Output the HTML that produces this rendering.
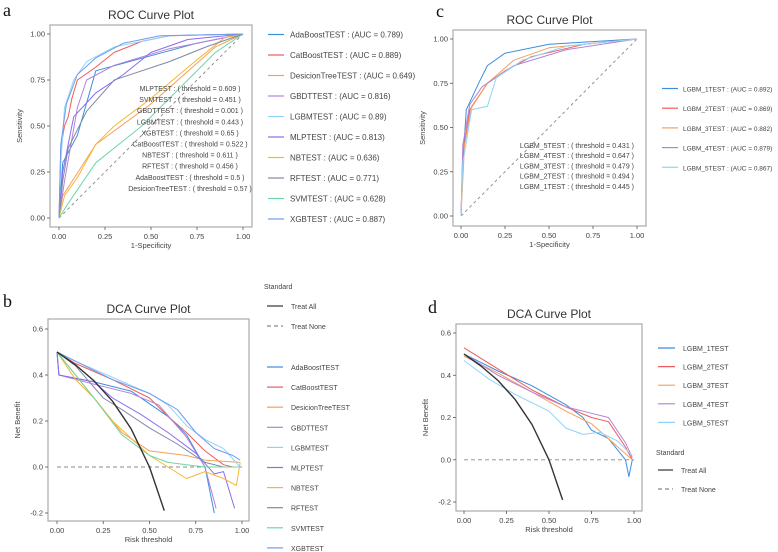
<!DOCTYPE html>
<html><head><meta charset="utf-8"><style>
body{margin:0;background:#fff;}
svg{display:block;font-family:"Liberation Sans",sans-serif;}
.tk{font-size:7.5px;fill:#444;}
.lg{font-size:8px;fill:#444;}
.lgc{font-size:6.5px;fill:#444;}
.th{font-size:7px;fill:#444;}
.tt{font-size:12px;fill:#333;}
.pl{font-family:"Liberation Serif",serif;font-size:18px;fill:#111;}
</style></head><body>
<svg id="fig" width="778" height="552" viewBox="0 0 778 552"></svg>
<script>
// ---- data ----
const rocAModels = ["AdaBoostTEST","CatBoostTEST","DesicionTreeTEST","GBDTTEST","LGBMTEST","MLPTEST","NBTEST","RFTEST","SVMTEST","XGBTEST"];
const rocAAuc = ["0.789","0.889","0.649","0.816","0.89","0.813","0.636","0.771","0.628","0.887"];
const rocAThreshLabels = ["MLPTEST : ( threshold = 0.609 )","SVMTEST : ( threshold = 0.451 )","GBDTTEST : ( threshold = 0.001 )","LGBMTEST : ( threshold = 0.443 )","XGBTEST : ( threshold = 0.65 )","CatBoostTEST : ( threshold = 0.522 )","NBTEST : ( threshold = 0.611 )","RFTEST : ( threshold = 0.456 )","AdaBoostTEST : ( threshold = 0.5 )","DesicionTreeTEST : ( threshold = 0.57 )"];
const rocAFpr = [
 [0,0.02,0.1,0.2,0.75,1],
 [0,0.01,0.03,0.05,0.07,0.1,0.2,0.3,0.45,0.6,1],
 [0,0.02,0.2,0.5,0.85,1],
 [0,0.03,0.1,0.15,0.3,0.6,1],
 [0,0.01,0.03,0.08,0.15,0.3,0.6,1],
 [0,0.02,0.08,0.2,0.35,0.5,0.7,1],
 [0,0.03,0.1,0.2,0.3,0.5,0.75,0.9,1],
 [0,0.02,0.05,0.15,0.3,0.6,0.8,1],
 [0,0.05,0.2,0.45,0.6,0.85,1],
 [0,0.01,0.04,0.1,0.2,0.35,0.55,1]];
const rocATpr = [
 [0,0.3,0.45,0.8,0.95,1],
 [0,0.38,0.5,0.55,0.65,0.75,0.82,0.9,0.96,0.99,1],
 [0,0.12,0.4,0.62,0.93,1],
 [0,0.2,0.6,0.75,0.83,0.92,1],
 [0,0.3,0.6,0.75,0.85,0.93,0.99,1],
 [0,0.25,0.55,0.68,0.78,0.9,0.97,1],
 [0,0.12,0.22,0.4,0.5,0.65,0.86,0.98,1],
 [0,0.2,0.38,0.58,0.75,0.85,0.93,1],
 [0,0.08,0.3,0.5,0.65,0.9,1],
 [0,0.4,0.62,0.78,0.87,0.95,0.99,1]];
const colorsA = ["#3b8ede","#ee5b5b","#f6a05c","#b382d8","#8fd4f7","#8b6cf0","#f7b733","#7d8aa6","#6fd6a8","#6f9cf0"];

const dcaTreatAllX = [0,0.1,0.2,0.3,0.4,0.5,0.58];
const dcaTreatAllY = [0.5,0.444,0.375,0.286,0.167,0,-0.19];
const dcaBX = [
 [0,0.01,0.2,0.4,0.6,0.7,0.8,0.85],
 [0,0.1,0.3,0.5,0.6,0.7,0.8,0.9,0.95],
 [0,0.2,0.35,0.5,0.7,0.8,0.99],
 [0,0.01,0.2,0.4,0.55,0.7,0.8,0.86],
 [0,0.1,0.3,0.5,0.6,0.7,0.8,0.9,0.99],
 [0,0.01,0.2,0.3,0.45,0.6,0.75,0.85,0.9,0.96],
 [0,0.1,0.2,0.3,0.38,0.5,0.6,0.7,0.8,0.9,0.97,0.99],
 [0,0.1,0.25,0.35,0.5,0.65,0.8,0.9],
 [0,0.2,0.35,0.5,0.6,0.7,0.8,0.99],
 [0,0.1,0.3,0.5,0.65,0.75,0.85,0.95,0.99]];
const dcaBY = [
 [0.5,0.4,0.37,0.33,0.22,0.14,0.0,-0.2],
 [0.5,0.45,0.38,0.3,0.22,0.15,0.07,0.01,0.0],
 [0.5,0.3,0.15,0.07,0.05,0.03,0.02],
 [0.5,0.4,0.36,0.32,0.27,0.13,0.0,-0.18],
 [0.5,0.46,0.39,0.32,0.27,0.18,0.12,0.08,0.0],
 [0.5,0.4,0.37,0.3,0.23,0.15,0.06,-0.03,-0.02,-0.18],
 [0.5,0.38,0.3,0.2,0.14,0.05,0.0,-0.05,-0.02,-0.05,-0.08,0.02],
 [0.5,0.44,0.3,0.25,0.17,0.1,0.02,0.0],
 [0.5,0.3,0.14,0.05,0.02,0.01,0.0,0.0],
 [0.5,0.46,0.38,0.32,0.25,0.15,0.08,0.05,0.03]];

const rocCModels = ["LGBM_1TEST","LGBM_2TEST","LGBM_3TEST","LGBM_4TEST","LGBM_5TEST"];
const rocCAuc = ["0.892","0.869","0.882","0.879","0.867"];
const rocCThreshLabels = ["LGBM_5TEST : ( threshold = 0.431 )","LGBM_4TEST : ( threshold = 0.647 )","LGBM_3TEST : ( threshold = 0.479 )","LGBM_2TEST : ( threshold = 0.494 )","LGBM_1TEST : ( threshold = 0.445 )"];
const rocCFpr = [
 [0,0.01,0.03,0.1,0.15,0.25,0.5,1],
 [0,0.01,0.05,0.15,0.25,0.4,0.7,1],
 [0,0.02,0.06,0.15,0.3,0.5,1],
 [0,0.01,0.05,0.12,0.3,0.6,1],
 [0,0.01,0.06,0.15,0.2,0.35,0.6,1]];
const rocCTpr = [
 [0,0.3,0.6,0.75,0.85,0.92,0.97,1],
 [0,0.35,0.6,0.75,0.82,0.9,0.97,1],
 [0,0.4,0.62,0.75,0.88,0.95,1],
 [0,0.4,0.63,0.73,0.85,0.94,1],
 [0,0.3,0.6,0.62,0.78,0.88,0.96,1]];
const colorsC = ["#3b8ede","#ee5b5b","#f6a05c","#b382d8","#8fd4f7"];

const dcaDX = [
 [0,0.2,0.4,0.6,0.7,0.75,0.85,0.95,0.97,0.99],
 [0,0.2,0.4,0.6,0.75,0.85,0.95,0.99],
 [0,0.2,0.4,0.6,0.75,0.85,0.92,0.99],
 [0,0.2,0.4,0.6,0.75,0.85,0.95,0.99],
 [0,0.15,0.3,0.5,0.6,0.7,0.8,0.9,0.99]];
const dcaDY = [
 [0.5,0.42,0.35,0.26,0.2,0.14,0.1,0.0,-0.08,0.0],
 [0.53,0.43,0.33,0.25,0.2,0.18,0.06,0.0],
 [0.49,0.41,0.32,0.23,0.17,0.1,0.05,0.0],
 [0.5,0.4,0.32,0.25,0.22,0.2,0.08,0.01],
 [0.47,0.38,0.31,0.23,0.15,0.12,0.13,0.09,0.02]];

const xTicks = ["0.00","0.25","0.50","0.75","1.00"];
const rocYTicks = ["0.00","0.25","0.50","0.75","1.00"];
const dcaBYTicks = ["-0.2","0.0","0.2","0.4","0.6"];

// ---- drawing ----
const NS="http://www.w3.org/2000/svg";
const svg=document.getElementById('fig');
function mk(tag,attrs,parent,text){const e=document.createElementNS(NS,tag);for(const k in attrs)e.setAttribute(k,attrs[k]);if(text!==undefined)e.textContent=text;(parent||svg).appendChild(e);return e;}
function lin(d0,d1,r0,r1){return v=>r0+(v-d0)/(d1-d0)*(r1-r0);}

function panel(cfg){
  const g=mk('g',{});
  
  
  const b=cfg.box;
  const fr=mk('rect',{x:b[0],y:b[1],width:b[2]-b[0],height:b[3]-b[1],fill:'none',stroke:'#aaa','stroke-width':1.2},g);
  
  const X=lin(0,1,cfg.xr[0],cfg.xr[1]);
  const Y=lin(cfg.yd[0],cfg.yd[1],cfg.yr[0],cfg.yr[1]);
  const xt=mk('g',{},g);
  xTicks.forEach(t=>{const v=parseFloat(t);mk('line',{x1:X(v),x2:X(v),y1:b[3],y2:b[3]+3,stroke:'#555','stroke-width':0.8},xt);mk('text',{x:X(v),y:b[3]+12,'text-anchor':'middle',class:'tk'},xt,t);});
  const yt=mk('g',{},g);
  cfg.yticks.forEach(t=>{const v=parseFloat(t);mk('line',{x1:b[0]-3,x2:b[0],y1:Y(v),y2:Y(v),stroke:'#555','stroke-width':0.8},yt);mk('text',{x:b[0]-5,y:Y(v)+2.5,'text-anchor':'end',class:'tk'},yt,t);});
  const xl=mk('text',{x:(b[0]+b[2])/2,y:b[3]+21,'text-anchor':'middle',class:'tk'},g,cfg.xlab);
  
  const cy=(b[1]+b[3])/2;
  const yl=mk('text',{x:b[0]-28,y:cy,'text-anchor':'middle',class:'tk',transform:`rotate(-90 ${b[0]-28} ${cy})`},g,cfg.ylab);
  
  const ti=mk('text',{x:(b[0]+b[2])/2,y:b[1]-6,'text-anchor':'middle',class:'tt'},g,cfg.title);
  
  const pl=mk('text',{x:cfg.label[0],y:cfg.label[1],class:'pl'},g,cfg.letter);
  
  return {g,X,Y};
}
function path(g,X,Y,xs,ys,color,w,dash,name){
  let d='';xs.forEach((x,i)=>{d+=(i?'L':'M')+X(x).toFixed(1)+','+Y(ys[i]).toFixed(1);});
  const p=mk('path',{d,fill:'none',stroke:color,'stroke-width':w,'stroke-linejoin':'round'},g);
  if(dash)p.setAttribute('stroke-dasharray',dash);
  
  
  return p;
}
function legendEntry(g,x,y,color,text,dash,tclass,len,gap){
  const e=mk('g',{},g);
  
  
  const l=mk('line',{x1:x,x2:x+len,y1:y,y2:y,stroke:color,'stroke-width':1.2},e);
  if(dash)l.setAttribute('stroke-dasharray',dash);
  mk('text',{x:x+len+(gap||8),y:y+3,class:tclass||'lg'},e,text);
}

// Panel a
(function(){
  const p=panel({name:'roc-panel-a',box:[50,25,252,227],xr:[59,243],yd:[0,1],yr:[218,34],yticks:rocYTicks,xlab:'1-Specificity',ylab:'Sensitivity',title:'ROC Curve Plot',letter:'a',label:[3,16]});
  path(p.g,p.X,p.Y,[0,1],[0,1],'#888',0.9,'3,3','diagonal-reference');
  rocAModels.forEach((m,i)=>path(p.g,p.X,p.Y,rocAFpr[i],rocATpr[i],colorsA[i],1,null,'roc-line-'+m.toLowerCase()));
  rocAThreshLabels.forEach((t,i)=>{const e=mk('text',{x:190,y:91+i*11.1,'text-anchor':'middle',class:'th'},p.g,t);});
  rocAModels.forEach((m,i)=>legendEntry(p.g,268,34.5+i*20.5,colorsA[i],m+' : (AUC = '+rocAAuc[i]+')',null,'lg',16,6));
})();
// Panel b
(function(){
  const p=panel({name:'dca-panel-b',box:[48,319,249,521],xr:[57,242],yd:[-0.2,0.6],yr:[513,329],yticks:dcaBYTicks,xlab:'Risk threshold',ylab:'Net Benefit',title:'DCA Curve Plot',letter:'b',label:[3,307]});
  path(p.g,p.X,p.Y,[0,1],[0,0],'#888',0.9,'4,3','treat-none-line');
  rocAModels.forEach((m,i)=>path(p.g,p.X,p.Y,dcaBX[i],dcaBY[i],colorsA[i],1,null,'dca-line-'+m.toLowerCase()));
  path(p.g,p.X,p.Y,dcaTreatAllX,dcaTreatAllY,'#333',1.4,null,'treat-all-line');
  const s=mk('text',{x:264,y:289,class:'th'},p.g,'Standard');
  legendEntry(p.g,267,306,'#333','Treat All',null,'th',16);
  legendEntry(p.g,267,326,'#888','Treat None','4,3','th',16);
  rocAModels.forEach((m,i)=>legendEntry(p.g,267,367+i*20.1,colorsA[i],m,null,'th',16));
})();
// Panel c
(function(){
  const p=panel({name:'roc-panel-c',box:[453,30,646,226],xr:[461,637],yd:[0,1],yr:[216,39],yticks:rocYTicks,xlab:'1-Specificity',ylab:'Sensitivity',title:'ROC Curve Plot',letter:'c',label:[436,17]});
  path(p.g,p.X,p.Y,[0,1],[0,1],'#888',0.9,'3,3','diagonal-reference');
  rocCModels.forEach((m,i)=>path(p.g,p.X,p.Y,rocCFpr[i],rocCTpr[i],colorsC[i],1,null,'roc-line-'+m.toLowerCase()));
  rocCThreshLabels.forEach((t,i)=>{const e=mk('text',{x:634,y:148+i*10.2,'text-anchor':'end',class:'th'},p.g,t);});
  rocCModels.forEach((m,i)=>legendEntry(p.g,662,88.5+i*19.7,colorsC[i],m+' : (AUC = '+rocCAuc[i]+')',null,'lgc',16,5));
})();
// Panel d
(function(){
  const p=panel({name:'dca-panel-d',box:[456,324,642,511],xr:[464,634],yd:[-0.2,0.6],yr:[502,333],yticks:dcaBYTicks,xlab:'Risk threshold',ylab:'Net Benefit',title:'DCA Curve Plot',letter:'d',label:[428,313]});
  path(p.g,p.X,p.Y,[0,1],[0,0],'#888',0.9,'4,3','treat-none-line');
  rocCModels.forEach((m,i)=>path(p.g,p.X,p.Y,dcaDX[i],dcaDY[i],colorsC[i],1,null,'dca-line-'+m.toLowerCase()));
  path(p.g,p.X,p.Y,dcaTreatAllX,dcaTreatAllY,'#333',1.4,null,'treat-all-line');
  rocCModels.forEach((m,i)=>legendEntry(p.g,658,348+i*18.6,colorsC[i],m,null,'th',17));
  const s=mk('text',{x:656,y:455,class:'th'},p.g,'Standard');
  legendEntry(p.g,658,470,'#333','Treat All',null,'th',15);
  legendEntry(p.g,658,489,'#888','Treat None','4,3','th',15);
})();
</script>
</body></html>
